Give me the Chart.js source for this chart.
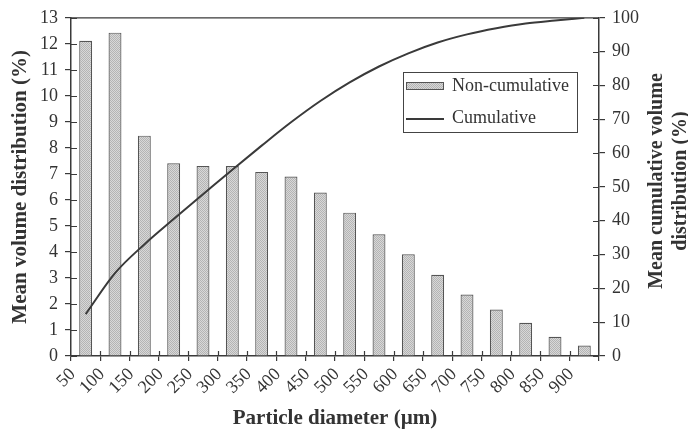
<!DOCTYPE html>
<html>
<head>
<meta charset="utf-8">
<script src="https://cdn.jsdelivr.net/npm/chart.js@4.4.0/dist/chart.umd.min.js"></script>
<style>
  html, body { margin: 0; padding: 0; background: #fff; }
  #wrap { width: 688px; height: 429px; position: relative; }
</style>
</head>
<body>
<div id="wrap"><canvas id="chart"></canvas></div>
<script>
'use strict';

// lower bound of each size class, used as tick labels (µm)
const diameters = ['50', '100', '150', '200', '250', '300', '350', '400', '450',
                   '500', '550', '600', '650', '700', '750', '800', '850', '900'];
// mean volume distribution per class (%)
const nonCumulative = [12.12, 12.43, 8.47, 7.41, 7.3, 7.3, 7.07, 6.9, 6.28,
                       5.51, 4.68, 3.91, 3.12, 2.36, 1.79, 1.28, 0.74, 0.4];
// mean cumulative volume distribution (%)
const cumulative = [12.4, 24.5, 33.0, 40.5, 47.8, 55.1, 62.2, 69.1, 75.4,
                    80.9, 85.6, 89.5, 92.7, 95.1, 96.9, 98.3, 99.2, 100];

const serif = "'Liberation Serif', 'DejaVu Serif', serif";
const axisColor = '#3a3a3a';
const textColor = '#333';

// stippled grey fill like the printed bars
function stipple() {
    const c = document.createElement('canvas');
    c.width = 2; c.height = 2;
    const g = c.getContext('2d');
    g.fillStyle = '#d8d8d8';
    g.fillRect(0, 0, 2, 2);
    g.fillStyle = '#b4b4b4';
    g.fillRect(0, 0, 1, 1);
    g.fillRect(1, 1, 1, 1);
    return g.createPattern(c, 'repeat');
}
const barFill = stipple();

const extras = {
    id: 'extras',
    afterDraw(chart) {
        const {ctx, chartArea: a, scales} = chart;
        ctx.save();
        ctx.strokeStyle = axisColor;
        ctx.lineWidth = 1.2;
        ctx.beginPath();
        // top frame
        ctx.moveTo(a.left, a.top);
        ctx.lineTo(a.right, a.top);
        // inner half of the crossing ticks
        scales.y.ticks.forEach(t => {
            const py = Math.round(scales.y.getPixelForValue(t.value)) + 0.5;
            ctx.moveTo(a.left, py); ctx.lineTo(a.left + 6, py);
        });
        scales.y2.ticks.forEach(t => {
            const py = Math.round(scales.y2.getPixelForValue(t.value)) + 0.5;
            ctx.moveTo(a.right, py); ctx.lineTo(a.right - 6, py);
        });
        const n = diameters.length;
        for (let i = 1; i < n; i++) {
            const px = Math.round(a.left + i * (a.right - a.left) / n) + 0.5;
            ctx.moveTo(px, a.bottom); ctx.lineTo(px, a.bottom - 5);
        }
        ctx.stroke();

        // legend box
        const ds = chart.data.datasets;
        ctx.fillStyle = '#fff';
        ctx.fillRect(403, 72, 174, 60);
        ctx.strokeStyle = '#444';
        ctx.lineWidth = 1;
        ctx.strokeRect(403.5, 72.5, 174, 60);
        ctx.fillStyle = barFill;
        ctx.fillRect(406, 82, 37, 8);
        ctx.strokeStyle = '#555';
        ctx.strokeRect(406.5, 82.5, 37, 7);
        ctx.strokeStyle = ds[1].borderColor;
        ctx.lineWidth = 2;
        ctx.beginPath();
        ctx.moveTo(406, 119); ctx.lineTo(444, 119);
        ctx.stroke();
        ctx.fillStyle = textColor;
        ctx.font = `18px ${serif}`;
        ctx.textBaseline = 'middle';
        ctx.textAlign = 'left';
        ctx.fillText(ds[0].label, 452, 86);
        ctx.fillText(ds[1].label, 452, 118);

        // right axis title, reading upwards, two lines
        ctx.font = `bold 20px ${serif}`;
        ctx.textAlign = 'center';
        ctx.translate(657, 181);
        ctx.rotate(-Math.PI / 2);
        ctx.fillText('Mean cumulative volume', 0, 0);
        ctx.fillText('distribution (%)', 0, 24);
        ctx.restore();
    }
};

const tickFont = {family: serif, size: 18};
const titleFont = {family: serif, size: 21, weight: 'bold', lineHeight: 1};

new Chart(document.getElementById('chart'), {
    type: 'bar',
    data: {
        labels: diameters,
        datasets: [{
            label: 'Non-cumulative',
            data: nonCumulative,
            backgroundColor: barFill,
            borderColor: '#555',
            borderWidth: 1.2,
            categoryPercentage: 1,
            barPercentage: 0.44,
            yAxisID: 'y',
            order: 2
        }, {
            type: 'line',
            label: 'Cumulative',
            data: cumulative,
            borderColor: '#3a3a3a',
            borderWidth: 2,
            pointRadius: 0,
            cubicInterpolationMode: 'monotone',
            yAxisID: 'y2',
            order: 1
        }]
    },
    options: {
        responsive: true,
        maintainAspectRatio: false,
        animation: false,
        layout: {padding: {top: 17, left: 0, right: 0, bottom: 0}},
        plugins: {
            legend: {display: false},
            tooltip: {enabled: false}
        },
        scales: {
            x: {
                offset: true,
                grid: {offset: true, drawOnChartArea: false, tickLength: 5, color: axisColor, lineWidth: 1.2},
                border: {color: axisColor, width: 1.5},
                ticks: {font: tickFont, color: textColor, minRotation: 45, maxRotation: 45,
                        labelOffset: -13, padding: 3, autoSkip: false},
                title: {display: true, text: 'Particle diameter (µm)', color: textColor,
                        font: titleFont, padding: {top: 0, bottom: 0}},
                afterFit: (s) => { s.height = 73; }
            },
            y: {
                position: 'left',
                min: 0, max: 13,
                ticks: {stepSize: 1, font: tickFont, color: textColor, padding: 7},
                grid: {drawOnChartArea: false, tickLength: 6, color: axisColor, lineWidth: 1.2},
                border: {color: axisColor, width: 1.5},
                title: {display: true, text: 'Mean volume distribution (%)', color: textColor,
                        font: titleFont, padding: {top: 10, bottom: 0}},
                afterFit: (s) => { s.width = 71; }
            },
            y2: {
                position: 'right',
                min: 0, max: 100,
                ticks: {stepSize: 10, font: tickFont, color: textColor, padding: 7},
                grid: {drawOnChartArea: false, tickLength: 6, color: axisColor, lineWidth: 1.2},
                border: {color: axisColor, width: 1.5},
                afterFit: (s) => { s.width = 89; }
            }
        }
    },
    plugins: [extras]
});
</script>
</body>
</html>
